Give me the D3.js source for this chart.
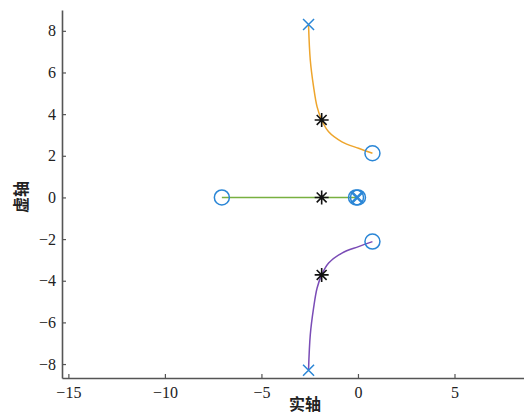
<!DOCTYPE html>
<html>
<head>
<meta charset="utf-8">
<script src="https://cdn.jsdelivr.net/npm/d3@7"></script>
<style>
  html, body { margin: 0; padding: 0; background: #fff; }
  svg { display: block; }
  .tick text { font-family: "Times New Roman", "Liberation Serif", serif !important; font-size: 16px; }
</style>
</head>
<body>
<svg id="chart" width="524" height="414"></svg>
<script>
// Root locus branches (real, imaginary)
const upperBranch = [[-2.56, 8.28], [-2.47, 6.60], [-2.30, 5.32], [-2.12, 4.36], [-1.88, 3.72],
  [-1.52, 3.15], [-0.83, 2.67], [0.03, 2.36], [0.75, 2.12]];
const lowerBranch = [[-2.56, -8.28], [-2.47, -6.60], [-2.30, -5.32], [-2.12, -4.36], [-1.88, -3.72],
  [-1.52, -3.15], [-0.83, -2.67], [0.03, -2.36], [0.75, -2.12]];
const realBranch = [[-7.05, 0], [-1.88, 0], [0, 0]];

// Open-loop poles, zeros and closed-loop poles
const poles = [[-2.56, 8.3], [-2.56, -8.3], [0, 0], [-0.08, 0]];
const zeros = [[0.75, 2.12], [0.75, -2.12], [-7.05, 0], [0, 0], [-0.1, 0]];
const closedLoopPoles = [[-1.88, 3.72], [-1.88, 0], [-1.88, -3.72]];

const xTicks = [-15, -10, -5, 0, 5];
const yTicks = [-8, -6, -4, -2, 0, 2, 4, 6, 8];

const svg = d3.select("#chart");
const x = d3.scaleLinear().domain([-15.33, 8.6]).range([62, 524]);
const y = d3.scaleLinear().domain([-8.67, 9.0]).range([378, 10]);

const axisColor = "#555";
const blue = "#2a86d6";
const serif = "Times New Roman, Liberation Serif, serif";

// Axes: left and bottom only, ticks pointing inward
const xAxis = svg.append("g").attr("transform", `translate(0,${y(-8.67)})`)
  .call(d3.axisBottom(x).tickValues(xTicks).tickSizeInner(-4).tickSizeOuter(0).tickPadding(9)
    .tickFormat(d => d < 0 ? "\u2212" + Math.abs(d) : d));
const yAxis = svg.append("g").attr("transform", `translate(${x(-15.33)},0)`)
  .call(d3.axisLeft(y).tickValues(yTicks).tickSizeInner(-4).tickSizeOuter(0).tickPadding(6)
    .tickFormat(d => d < 0 ? "\u2212" + Math.abs(d) : d));

[xAxis, yAxis].forEach(g => {
  g.attr("font-family", serif).attr("font-size", 16);
  g.select(".domain").attr("stroke", axisColor).attr("stroke-width", 1.6);
  g.selectAll(".tick line").attr("stroke", axisColor).attr("stroke-width", 1.2);
  g.selectAll(".tick text").attr("fill", "#222");
});

// Axis titles
svg.append("text").attr("x", 305).attr("y", 410).attr("text-anchor", "middle")
  .style("font-family", "'Noto Sans CJK SC', sans-serif").style("font-weight", "bold")
  .style("font-size", "16px").attr("fill", "#222").text("实轴");
svg.append("text").attr("transform", "translate(27,197) rotate(-90)").attr("text-anchor", "middle")
  .style("font-family", "'Noto Sans CJK SC', sans-serif").style("font-weight", "bold")
  .style("font-size", "16px").attr("fill", "#222").text("虚轴");

// Locus branches
const line = d3.line().x(d => x(d[0])).y(d => y(d[1])).curve(d3.curveCatmullRom.alpha(0.5));
svg.append("path").datum(upperBranch).attr("d", line).attr("fill", "none")
  .attr("stroke", "#eea52c").attr("stroke-width", 1.5);
svg.append("path").datum(lowerBranch).attr("d", line).attr("fill", "none")
  .attr("stroke", "#7a4cb6").attr("stroke-width", 1.5);
svg.append("path").datum(realBranch).attr("d", line).attr("fill", "none")
  .attr("stroke", "#78b040").attr("stroke-width", 1.5);

// Zeros (circles)
svg.selectAll(".zero").data(zeros).join("circle").attr("class", "zero")
  .attr("cx", d => x(d[0])).attr("cy", d => y(d[1])).attr("r", 7.5)
  .attr("fill", "none").attr("stroke", blue).attr("stroke-width", 1.5);

// Poles (crosses)
const s = 5.5;
svg.selectAll(".pole").data(poles).join("path").attr("class", "pole")
  .attr("d", d => {
    const cx = x(d[0]), cy = y(d[1]);
    return `M${cx - s},${cy - s}L${cx + s},${cy + s}M${cx - s},${cy + s}L${cx + s},${cy - s}`;
  })
  .attr("fill", "none").attr("stroke", blue).attr("stroke-width", 1.5);

// Closed-loop poles (asterisks)
const a = 7;
svg.selectAll(".clp").data(closedLoopPoles).join("path").attr("class", "clp")
  .attr("d", d => {
    const cx = x(d[0]), cy = y(d[1]);
    const k = a * Math.SQRT1_2;
    return `M${cx - a},${cy}L${cx + a},${cy}M${cx},${cy - a}L${cx},${cy + a}` +
      `M${cx - k},${cy - k}L${cx + k},${cy + k}M${cx - k},${cy + k}L${cx + k},${cy - k}`;
  })
  .attr("fill", "none").attr("stroke", "#111").attr("stroke-width", 1.6);
</script>
</body>
</html>
